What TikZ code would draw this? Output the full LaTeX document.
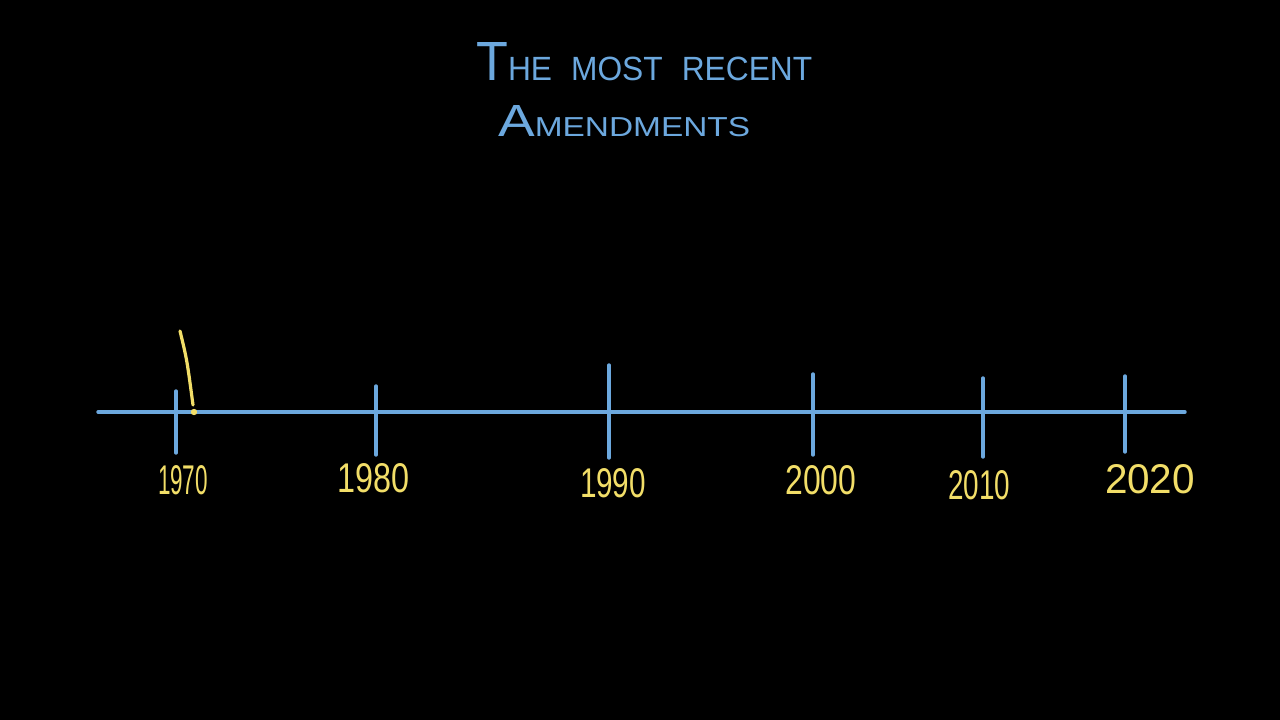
\documentclass[tikz,border=0pt]{standalone}
\usepackage{fontspec}
\setmainfont{Liberation Sans}
\definecolor{chalkblue}{RGB}{108,168,222}
\definecolor{chalkyellow}{RGB}{242,222,104}
\tikzset{
  axis/.style={draw=chalkblue, line width=3.4pt, line cap=round},
  tick/.style={draw=chalkblue, line width=3.4pt, line cap=round},
  mark stroke/.style={draw=chalkyellow, line width=3.2pt, line cap=round},
  year/.style={text=chalkyellow, anchor=base, inner sep=0pt},
  title/.style={text=chalkblue, anchor=base west, inner sep=0pt}
}
\newcommand{\yr}[2]{\resizebox{#1}{29pt}{#2}}
\newcommand{\bigletter}[1]{{\fontsize{46}{50}\selectfont #1}}
\begin{document}
\begin{tikzpicture}[x=1pt,y=1pt]
\fill[black] (0,0) rectangle (1280,720);
\useasboundingbox (0,0) rectangle (1280,720);
% title
\node[title] (t1) at (476,639) {\resizebox{336pt}{38pt}{\fontsize{28}{30}\selectfont\bigletter{T}HE\hspace{0.6em}MOST\hspace{0.6em}RECENT}};
\node[title] (t2) at (498,583) {\resizebox{252pt}{31pt}{\fontsize{28}{30}\selectfont\bigletter{A}MENDMENTS}};
% axis
\coordinate (L) at (98,308);
\coordinate (R) at (1185,308);
\draw[axis] (L) -- (R);
% ticks
\coordinate (a1) at (176,329); \coordinate (b1) at (176,267);
\coordinate (a2) at (376,334); \coordinate (b2) at (376,265);
\coordinate (a3) at (609,355); \coordinate (b3) at (609,262);
\coordinate (a4) at (813,346); \coordinate (b4) at (813,265);
\coordinate (a5) at (983,342); \coordinate (b5) at (983,263);
\coordinate (a6) at (1125,344); \coordinate (b6) at (1125,268);
\foreach \i in {1,...,6} {\draw[tick] (a\i) -- (b\i);}
% yellow mark
\coordinate (m1) at (180,389);
\coordinate (m2) at (193,315);
\coordinate (m3) at (194,308);
\draw[mark stroke] (m1) .. controls (187,360) .. (m2);
\fill[chalkyellow] (m3) circle (3.2pt);
% year labels
\node[year] (y1970) at (183,225) {\yr{50pt}{1970}};
\node[year] (y1980) at (374,227) {\yr{72pt}{1980}};
\node[year] (y1990) at (613,222) {\yr{66pt}{1990}};
\node[year] (y2000) at (821,225) {\yr{71pt}{2000}};
\node[year] (y2010) at (979,220) {\yr{62pt}{2010}};
\node[year] (y2020) at (1150,226) {\yr{90pt}{2020}};
\end{tikzpicture}
\end{document}
